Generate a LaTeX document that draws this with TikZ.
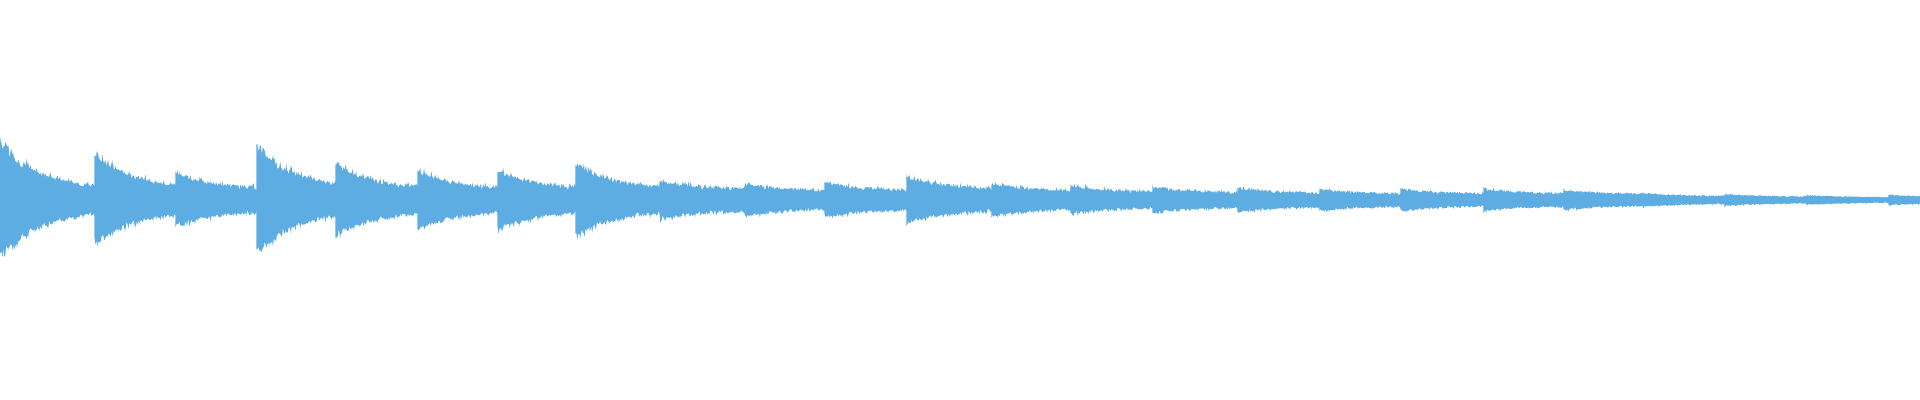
\documentclass[tikz,border=0pt]{standalone}
\begin{document}
\begin{tikzpicture}[x=0.01cm,y=-0.01cm]
\definecolor{wave}{HTML}{5DADE2}
\tikzset{wavefill/.style={fill=wave,draw=wave,line width=0.3pt}}
\useasboundingbox (0,0) rectangle (1920,400);
\pgfmathsetseed{7}
\foreach \s/\e/\a [count=\i] in {0/95/55,95/176/43,176/257/25,257/336/51,336/418/34,418/498/27,498/576/28,576/660/34,660/745/18,745/825/15,825/907/16,907/992/21,992/1071/15,1071/1153/13,1153/1238/12,1238/1320/11,1320/1401/10,1401/1484/10,1484/1564/10,1564/1643/9,1643/1725/6,1725/1807/5,1807/1889/4,1889/1920/4}{
  \pgfmathsetmacro{\t}{min(9,0.5*\a)}
  \fill[wavefill] plot[domain=\s:\e,samples=120] (\x,{200-(\a-\t)*exp(-(\x-\s)/40)*(0.85+0.3*rnd)-\t*(0.75+0.5*rnd)})
    -- plot[domain=\e:\s,samples=120] (\x,{200+(\a-\t)*exp(-(\x-\s)/40)*(0.85+0.3*rnd)+\t*(0.75+0.5*rnd)}) -- cycle;
}
\end{tikzpicture}
\end{document}
